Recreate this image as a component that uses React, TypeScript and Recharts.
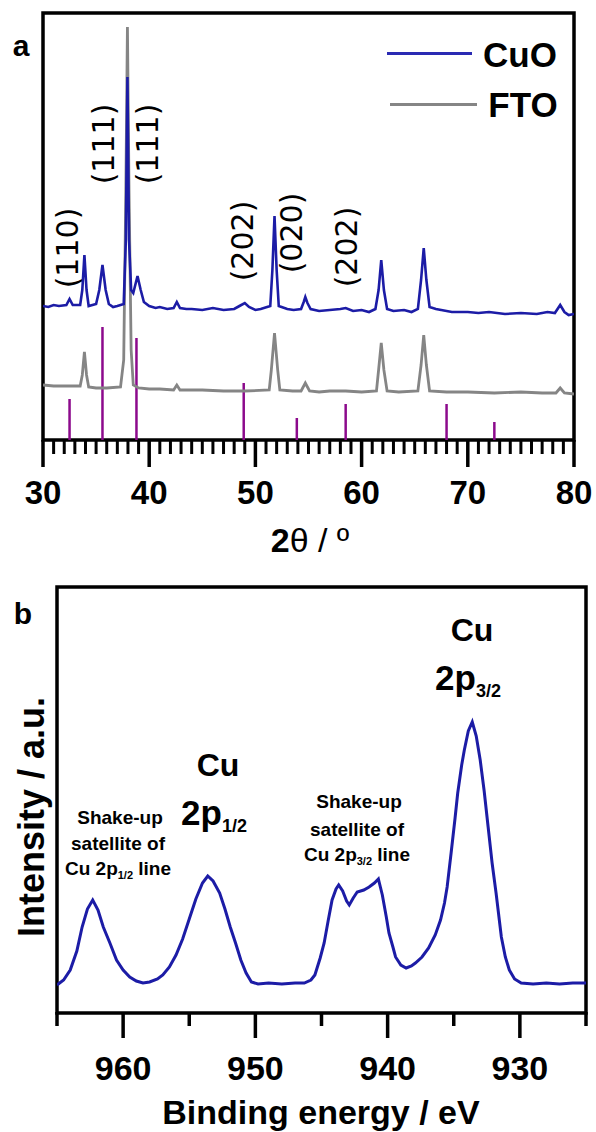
import React from "react";
import {
  LineChart,
  Line,
  XAxis,
  YAxis,
  ReferenceLine,
  ReferenceArea,
} from "recharts";

// panel a: XRD (2θ in degrees, intensity in arbitrary units)
const cuoTheta = [
  30.0, 30.5, 31.0, 31.5, 32.2, 32.5, 32.8, 33.5, 33.7, 33.9, 34.1, 34.3, 35.0, 35.3, 35.6, 35.9,
  36.2, 36.6, 37.0, 37.6, 37.8, 37.95, 38.1, 38.3, 38.5, 38.9, 39.2, 39.5, 40.0, 40.6, 41.0, 41.7,
  42.3, 42.6, 42.9, 43.5, 44.0, 45.0, 46.0, 47.0, 48.0, 48.5, 49.0, 49.4, 50.0, 50.5, 51.4, 51.6,
  51.8, 52.0, 52.2, 53.0, 53.6, 54.3, 54.55, 54.7, 54.9, 55.2, 56.0, 57.0, 58.0, 58.5, 59.2, 60.0,
  60.7, 61.3, 61.6, 61.85, 62.1, 62.4, 63.0, 64.0, 64.7, 65.3, 65.6, 65.85, 66.1, 66.4, 67.0, 67.5,
  68.5, 70.0, 71.0, 72.0, 73.5, 75.0, 76.5, 77.5, 78.2, 78.7, 79.1, 79.5, 80.0,
];
const cuoCounts = [
  134, 133, 135, 134, 135, 141, 135, 135, 150, 185, 150, 134, 136, 150, 175, 150,
  136, 133, 134, 136, 200, 363, 200, 150, 147, 164, 150, 138, 134, 132, 133, 131,
  132, 138, 132, 131, 131, 130, 132, 130, 131, 134, 137, 133, 130, 131, 134, 170,
  224, 170, 134, 131, 130, 131, 138, 143, 137, 131, 129, 130, 131, 132, 129, 130,
  128, 131, 150, 180, 150, 131, 129, 130, 128, 131, 160, 192, 160, 133, 131, 130,
  128, 128, 127, 128, 126, 127, 126, 128, 127, 135, 128, 125, 126,
];

const ftoTheta = [
  30.0, 31.0, 32.0, 33.5, 33.7, 33.9, 34.1, 34.3, 35.0, 36.0, 37.3, 37.6, 37.8, 37.95, 38.1, 38.3,
  38.5, 39.0, 40.0, 41.0, 42.3, 42.6, 42.9, 44.0, 45.0, 47.0, 49.0, 51.3, 51.5, 51.8, 52.1, 52.3,
  53.5, 54.3, 54.7, 55.1, 56.0, 57.0, 58.5, 60.0, 61.4, 61.6, 61.85, 62.1, 62.4, 63.5, 65.3, 65.6,
  65.85, 66.1, 66.4, 68.0, 70.0, 72.5, 75.0, 77.0, 78.3, 78.7, 79.1, 80.0,
];
const ftoCounts = [
  55, 54, 54, 54, 65, 88, 65, 53, 52, 52, 53, 80, 250, 413, 250, 90,
  55, 52, 51, 51, 50, 55, 50, 50, 50, 49, 49, 50, 70, 107, 70, 50,
  49, 49, 57, 49, 48, 49, 49, 48, 49, 70, 97, 70, 49, 48, 49, 75,
  105, 75, 49, 48, 48, 47, 48, 47, 47, 52, 47, 46,
];

// reference pattern sticks
const stickTheta = [32.5, 35.6, 38.8, 48.9, 53.9, 58.5, 68.0, 72.5];
const stickHeight = [41, 113, 102, 57, 22, 36, 36, 18];

const hklLabels = ["(110)", "(111)", "(111)", "(202)", "(020)", "(202)"];
const hklLeft = [68, 104, 148, 243, 292, 347];
const hklTop = [248, 144, 144, 241, 233, 247];

const xrdMajorTicks = [30, 40, 50, 60, 70, 80];
const xrdMinorTicks = [
  31, 32, 33, 34, 35, 36, 37, 38, 39, 41, 42, 43, 44, 45, 46, 47, 48, 49,
  51, 52, 53, 54, 55, 56, 57, 58, 59, 61, 62, 63, 64, 65, 66, 67, 68, 69,
  71, 72, 73, 74, 75, 76, 77, 78, 79,
];

// panel b: XPS Cu 2p
const bindingEnergy = [
  965.0, 964.5, 964.0, 963.5, 963.1, 962.7, 962.3, 961.9, 961.5, 961.0, 960.5, 960.0, 959.5,
  959.0, 958.5, 958.0, 957.4, 957.0, 956.5, 956.0, 955.5, 955.0, 954.5, 954.0, 953.6, 953.2,
  952.7, 952.3, 951.9, 951.5, 951.1, 950.7, 950.3, 949.8, 949.0, 948.0, 947.0, 946.3, 945.8,
  945.5, 945.1, 944.8, 944.5, 944.2, 943.9, 943.7, 943.4, 943.1, 942.9, 942.6, 942.3, 941.8,
  941.4, 941.0, 940.7, 940.4, 940.1, 939.9, 939.6, 939.4, 939.0, 938.6, 938.2, 937.9, 937.4,
  936.9, 936.4, 936.0, 935.7, 935.5, 935.2, 934.9, 934.7, 934.4, 934.2, 933.9, 933.6, 933.3,
  933.0, 932.7, 932.4, 932.1, 931.8, 931.4, 931.1, 930.8, 930.4, 929.9, 929.0, 928.0, 927.0,
  926.0, 925.0,
];
const xpsIntensity = [
  28, 33, 43, 62, 86, 104, 113, 103, 86, 70, 53, 43, 36,
  32, 30, 31, 34, 38, 46, 58, 74, 94, 114, 130, 137, 132,
  120, 104, 86, 70, 53, 40, 31, 29, 30, 29, 30, 30, 33,
  38, 55, 70, 92, 113, 124, 128, 122, 112, 108, 115, 121, 123,
  126, 130, 134, 118, 96, 80, 66, 56, 48, 45, 47, 50, 56,
  65, 78, 93, 110, 126, 160, 195, 220, 248, 263, 282, 291, 277,
  253, 222, 186, 150, 120, 76, 56, 43, 34, 30, 29, 30, 29,
  30, 30,
];
const xpsMajorTicks = [960, 950, 940, 930];
const xpsMinorTicks = [965, 955, 945, 935, 925];

const cuoData = cuoTheta.map((x, i) => ({ x, y: cuoCounts[i] }));
const ftoData = ftoTheta.map((x, i) => ({ x, y: ftoCounts[i] }));
const xpsData = bindingEnergy.map((x, i) => ({ x, y: xpsIntensity[i] }));

const BLUE = "#1c1ca6";
const GREY = "#858585";
const PURPLE = "#8c0a8c";
const SANS = "'Liberation Sans', Arial, sans-serif";

const abs = (left: number, top: number, extra: React.CSSProperties = {}): React.CSSProperties => ({
  position: "absolute",
  left,
  top,
  fontFamily: SANS,
  color: "#000",
  whiteSpace: "nowrap",
  lineHeight: 1,
  ...extra,
});

const centered = { transform: "translate(-50%, -50%)" };

export default function App() {
  return (
    <div style={{ position: "absolute", left: 0, top: 0, width: 596, height: 1132, background: "#fff" }}>
      {/* panel a */}
      <div style={{ position: "absolute", left: 0, top: 0 }}>
        <LineChart width={596} height={560} margin={{ top: 13, right: 22, bottom: 60, left: 43 }}>
          <XAxis
            dataKey="x"
            type="number"
            domain={[30, 80]}
            ticks={xrdMajorTicks}
            interval={0}
            tickSize={27}
            tickMargin={14}
            tickLine={{ stroke: "#000", strokeWidth: 3.5 }}
            axisLine={false}
            tick={{ fill: "#000", fontFamily: SANS, fontWeight: "bold", fontSize: 33 }}
            height={60}
            allowDataOverflow
          />
          <YAxis type="number" domain={[0, 427]} hide allowDataOverflow />
          {xrdMinorTicks.map((t, i) => (
            <ReferenceLine
              key={"minor-" + i}
              segment={[{ x: t, y: 1 }, { x: t, y: -14 }]}
              stroke="#000"
              strokeWidth={3}
              ifOverflow="visible"
            />
          ))}
          {stickTheta.map((t, i) => (
            <ReferenceLine
              key={"stick-" + i}
              segment={[{ x: t, y: 0 }, { x: t, y: stickHeight[i] }]}
              stroke={PURPLE}
              strokeWidth={2.5}
              ifOverflow="visible"
            />
          ))}
          <Line data={ftoData} dataKey="y" stroke={GREY} strokeWidth={2.8} dot={false} isAnimationActive={false} />
          <Line data={cuoData} dataKey="y" stroke={BLUE} strokeWidth={2.6} dot={false} isAnimationActive={false} />
          <ReferenceArea x1={30} x2={80} y1={0} y2={427} fill="none" fillOpacity={0} stroke="#000" strokeWidth={3.5} ifOverflow="visible" />
        </LineChart>
      </div>

      <div style={abs(21, 46, { ...centered, fontSize: 30, fontWeight: "bold" })}>a</div>
      {hklLabels.map((lab, i) => (
        <div
          key={i}
          style={abs(hklLeft[i], hklTop[i], {
            transform: "translate(-50%, -50%) rotate(-90deg)",
            fontFamily: "'DejaVu Sans', sans-serif",
            fontSize: 30,
          })}
        >
          {lab}
        </div>
      ))}
      <div style={{ position: "absolute", left: 387, top: 52, width: 85, height: 3, background: "#2a2ab3" }} />
      <div style={abs(520, 54, { ...centered, fontSize: 35, fontWeight: "bold" })}>CuO</div>
      <div style={{ position: "absolute", left: 390, top: 103, width: 87, height: 2.5, background: GREY }} />
      <div style={abs(523, 104, { ...centered, fontSize: 35, fontWeight: "bold" })}>FTO</div>
      <div style={abs(310, 540, { ...centered, fontSize: 34 })}>
        <b>2</b>θ / º
      </div>

      {/* panel b */}
      <div style={{ position: "absolute", left: 0, top: 560 }}>
        <LineChart width={596} height={572} margin={{ top: 27, right: 10, bottom: 59, left: 57 }}>
          <XAxis
            dataKey="x"
            type="number"
            domain={[925, 965]}
            reversed
            ticks={xpsMajorTicks}
            interval={0}
            tickSize={25}
            tickMargin={18}
            tickLine={{ stroke: "#000", strokeWidth: 3.5 }}
            axisLine={false}
            tick={{ fill: "#000", fontFamily: SANS, fontWeight: "bold", fontSize: 34 }}
            height={60}
            allowDataOverflow
          />
          <YAxis type="number" domain={[0, 426]} hide allowDataOverflow />
          {xpsMinorTicks.map((t, i) => (
            <ReferenceLine
              key={"minor-" + i}
              segment={[{ x: t, y: 1 }, { x: t, y: -13 }]}
              stroke="#000"
              strokeWidth={3.5}
              ifOverflow="visible"
            />
          ))}
          <Line data={xpsData} dataKey="y" stroke={BLUE} strokeWidth={3} dot={false} isAnimationActive={false} />
          <ReferenceArea x1={925} x2={965} y1={0} y2={426} fill="none" fillOpacity={0} stroke="#000" strokeWidth={3.5} ifOverflow="visible" />
        </LineChart>
      </div>

      <div style={abs(23, 614, { ...centered, fontSize: 30, fontWeight: "bold" })}>b</div>
      <div
        style={abs(32, 817, {
          transform: "translate(-50%, -50%) rotate(-90deg)",
          fontSize: 36,
          fontWeight: "bold",
        })}
      >
        Intensity / a.u.
      </div>
      <div style={abs(321, 1112, { ...centered, fontSize: 34, fontWeight: "bold" })}>Binding energy / eV</div>

      <div style={abs(218, 765, { ...centered, fontSize: 32, fontWeight: "bold" })}>Cu</div>
      <div style={abs(214, 815, { ...centered, fontSize: 35, fontWeight: "bold" })}>
        2p<sub style={{ fontSize: 18, verticalAlign: "-0.35em" }}>1/2</sub>
      </div>
      <div style={abs(472, 630, { ...centered, fontSize: 32, fontWeight: "bold" })}>Cu</div>
      <div style={abs(468, 680, { ...centered, fontSize: 35, fontWeight: "bold" })}>
        2p<sub style={{ fontSize: 18, verticalAlign: "-0.35em" }}>3/2</sub>
      </div>

      <div style={abs(120, 817, { ...centered, fontSize: 19, fontWeight: "bold" })}>Shake-up</div>
      <div style={abs(118, 843, { ...centered, fontSize: 19, fontWeight: "bold" })}>satellite of</div>
      <div style={abs(118, 870, { ...centered, fontSize: 19, fontWeight: "bold" })}>
        Cu 2p<sub style={{ fontSize: 11, verticalAlign: "-0.3em" }}>1/2</sub> line
      </div>
      <div style={abs(359, 801, { ...centered, fontSize: 19, fontWeight: "bold" })}>Shake-up</div>
      <div style={abs(357, 829, { ...centered, fontSize: 19, fontWeight: "bold" })}>satellite of</div>
      <div style={abs(357, 856, { ...centered, fontSize: 19, fontWeight: "bold" })}>
        Cu 2p<sub style={{ fontSize: 11, verticalAlign: "-0.3em" }}>3/2</sub> line
      </div>
    </div>
  );
}
